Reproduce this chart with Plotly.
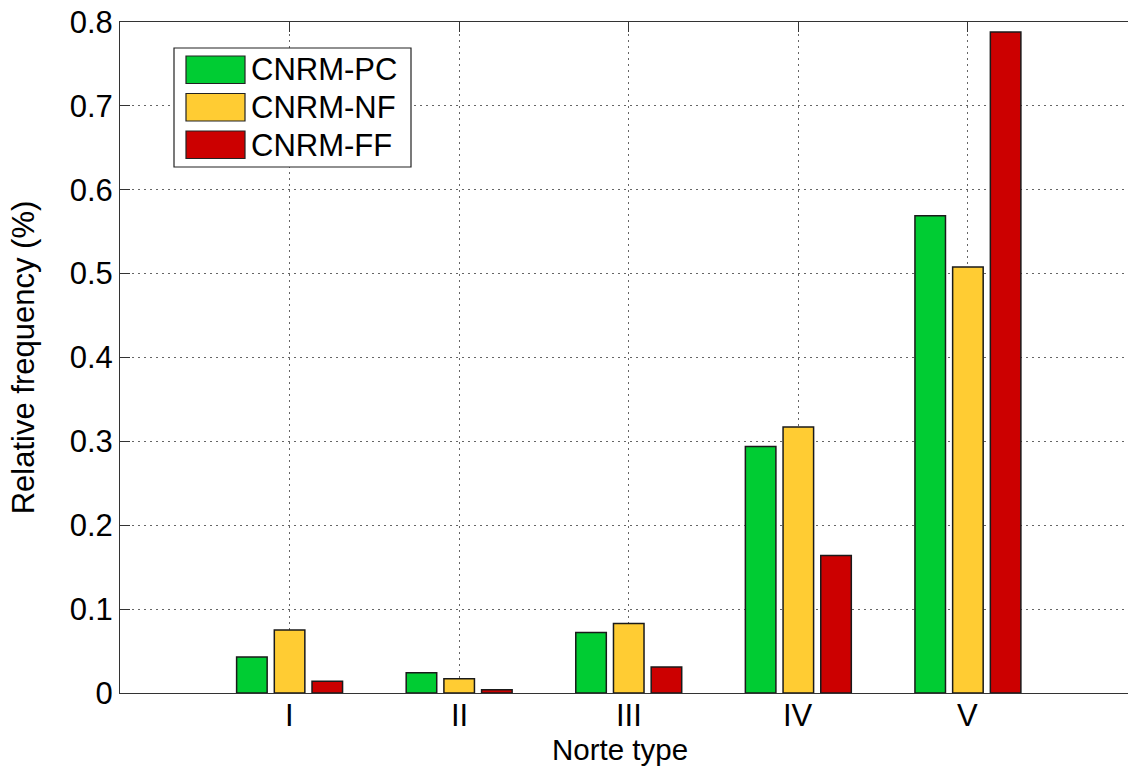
import plotly.graph_objects as go

# Norte types on the x axis
norte_types = ["I", "II", "III", "IV", "V"]

# Relative frequency per scenario
series_names = ["CNRM-PC", "CNRM-NF", "CNRM-FF"]
cnrm_pc = [0.043, 0.024, 0.072, 0.294, 0.569]
cnrm_nf = [0.075, 0.017, 0.083, 0.317, 0.508]
cnrm_ff = [0.014, 0.004, 0.031, 0.164, 0.788]
series_values = [cnrm_pc, cnrm_nf, cnrm_ff]
series_colors = ["#00CC33", "#FFCC33", "#CC0000"]

y_ticks = [0, 0.1, 0.2, 0.3, 0.4, 0.5, 0.6, 0.7, 0.8]
y_ticktext = ["0", "0.1", "0.2", "0.3", "0.4", "0.5", "0.6", "0.7", "0.8"]

W, H = 1128, 767
ML, MR, MT, MB = 120, 0, 22, 74
FONT = "Liberation Sans, Arial, Helvetica, sans-serif"
FS = 31

fig = go.Figure()
for name, vals, col in zip(series_names, series_values, series_colors):
    fig.add_trace(go.Bar(
        x=norte_types, y=vals, name=name,
        marker=dict(color=col, line=dict(color="#1a1a1a", width=1.5)),
        showlegend=False,
    ))

pw, ph = W - ML - MR, H - MT - MB


def px_x(p):
    return (p - ML) / pw


def px_y(p):
    return (H - MB - p) / ph


# hand-drawn legend box with large swatches
shapes = [dict(type="rect", xref="paper", yref="paper",
               x0=px_x(174), x1=px_x(411), y0=px_y(167), y1=px_y(48),
               line=dict(color="#222", width=1.2), fillcolor="white", layer="above")]
annotations = []
row_tops = [56, 93.5, 131]
for top, name, col in zip(row_tops, series_names, series_colors):
    shapes.append(dict(type="rect", xref="paper", yref="paper",
                       x0=px_x(186), x1=px_x(245), y0=px_y(top + 27.5), y1=px_y(top),
                       line=dict(color="#222", width=1.2), fillcolor=col, layer="above"))
    annotations.append(dict(xref="paper", yref="paper", x=px_x(249), y=px_y(top + 14),
                            text=name, showarrow=False, xanchor="left", yanchor="middle",
                            font=dict(family=FONT, size=FS, color="black")))

# category labels under the axis, set a little closer than plotly's default pad
for cat in norte_types:
    annotations.append(dict(xref="x", yref="paper", x=cat, y=px_y(715),
                            text=cat, showarrow=False, xanchor="center", yanchor="middle",
                            font=dict(family=FONT, size=FS, color="black")))

# x-axis title
annotations.append(dict(xref="paper", yref="paper", x=px_x(620), y=px_y(749),
                        text="Norte type", showarrow=False, xanchor="center", yanchor="middle",
                        font=dict(family=FONT, size=29.5, color="black")))

fig.update_layout(
    width=W, height=H,
    margin=dict(l=ML, r=MR, t=MT, b=MB),
    paper_bgcolor="white", plot_bgcolor="white",
    barmode="group", bargap=0.333, bargroupgap=0.19,
    font=dict(family=FONT, size=FS, color="black"),
    shapes=shapes, annotations=annotations,
    showlegend=False,
)
fig.update_xaxes(
    type="category", range=[-1, 4.944],
    showline=True, linecolor="#333", linewidth=1, mirror="ticks",
    ticks="inside", ticklen=10, tickcolor="#333",
    showgrid=True, gridcolor="#666", griddash="2px,4px", gridwidth=1,
    layer="below traces", showticklabels=False,
)
fig.update_yaxes(
    range=[0, 0.8], tickvals=y_ticks, ticktext=y_ticktext,
    showline=True, linecolor="#333", linewidth=1, mirror=False,
    ticks="inside", ticklen=10, tickcolor="#333",
    showgrid=True, gridcolor="#666", griddash="2px,4px", gridwidth=1,
    zeroline=False, layer="below traces",
    title=dict(text="Relative frequency (%)", font=dict(size=FS), standoff=25),
    tickfont=dict(size=FS),
)

fig.write_html("out.html")
